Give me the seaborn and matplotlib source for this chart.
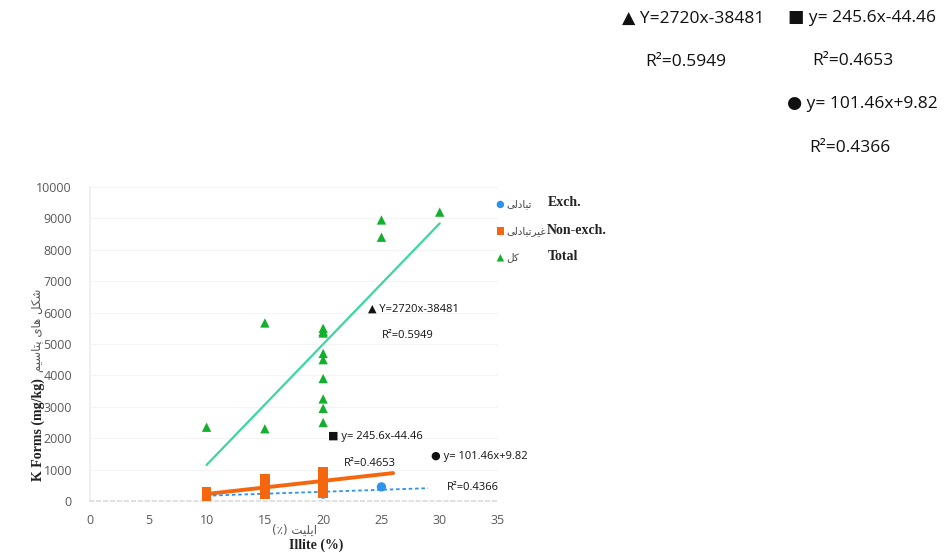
import numpy as np
import pandas as pd
import matplotlib
matplotlib.use('Agg')
import matplotlib.pyplot as plt
import seaborn as sns

# data
exch_x = [10, 15, 15, 20, 20, 20, 20, 20, 25]
exch_y = [190, 240, 270, 220, 250, 280, 300, 260, 450]
nonexch_x = [10, 10, 15, 15, 15, 15, 20, 20, 20, 20, 20, 20, 20, 20, 20, 20]
nonexch_y = [290, 160, 700, 480, 320, 220, 920, 870, 820, 760, 700, 640, 560, 480, 400, 250]
total_x = [10, 15, 15, 20, 20, 20, 20, 20, 20, 20, 20, 20, 25, 25, 30]
total_y = [2350, 5670, 2300, 5500, 5400, 4700, 4500, 3900, 3250, 2950, 2500, 5350, 8950, 8400, 9200]

x_ticks = [0, 5, 10, 15, 20, 25, 30, 35]
y_ticks = list(range(0, 10001, 1000))

eq_total = '▲ Y=2720x-38481'
eq_nonexch = '■ y= 245.6x-44.46'
eq_exch = '● y= 101.46x+9.82'
r2_total = 'R²=0.5949'
r2_nonexch = 'R²=0.4653'
r2_exch = 'R²=0.4366'

fa_exch = 'تبادلی'
fa_nonexch = 'غیرتبادلی'
fa_total = 'کل'
fa_ylabel = 'شکل های پتاسیم'
fa_xlabel = 'ایلیت (٪)'

# matplotlib has no arabic shaping -> pick presentation forms by hand
FORMS = {
    'ا': ('\ufe8d', '\ufe8e', None, None),
    'د': ('\ufea9', '\ufeaa', None, None),
    'ر': ('\ufead', '\ufeae', None, None),
    'ب': ('\ufe8f', '\ufe90', '\ufe91', '\ufe92'),
    'ت': ('\ufe95', '\ufe96', '\ufe97', '\ufe98'),
    'س': ('\ufeb1', '\ufeb2', '\ufeb3', '\ufeb4'),
    'ش': ('\ufeb5', '\ufeb6', '\ufeb7', '\ufeb8'),
    'غ': ('\ufecd', '\ufece', '\ufecf', '\ufed0'),
    'ل': ('\ufedd', '\ufede', '\ufedf', '\ufee0'),
    'م': ('\ufee1', '\ufee2', '\ufee3', '\ufee4'),
    'ه': ('\ufee9', '\ufeea', '\ufeeb', '\ufeec'),
    'ی': ('\ufbfc', '\ufbfd', '\ufbfe', '\ufbff'),
    'ک': ('\ufb8e', '\ufb8f', '\ufb90', '\ufb91'),
    'پ': ('\ufb56', '\ufb57', '\ufb58', '\ufb59'),
}


def shape_fa(s):
    out = []
    for i, c in enumerate(s):
        if c not in FORMS:
            out.append(c)
            continue
        prev = s[i - 1] if i > 0 else ''
        nxt = s[i + 1] if i + 1 < len(s) else ''
        join_prev = prev in FORMS and FORMS[prev][2] is not None
        join_next = nxt in FORMS and FORMS[c][2] is not None
        iso, fin, ini, med = FORMS[c]
        if join_prev and join_next:
            out.append(med)
        elif join_prev:
            out.append(fin)
        elif join_next:
            out.append(ini)
        else:
            out.append(iso)
    vis = ''.join(reversed(out))
    return vis.translate(str.maketrans('()', ')('))


def px(x, y):
    return x / 950, 1 - y / 552


sns.set_theme(style='white')
plt.rcParams['font.family'] = ['Open Sans', 'DejaVu Sans']

fig = plt.figure(figsize=(9.5, 5.52), dpi=100)
ax = fig.add_axes([90 / 950, 1 - 501 / 552, 408 / 950, 314 / 552])

c_exch = '#2E93EE'
c_nonexch = '#F4670F'
c_total = '#12B02C'

sns.scatterplot(x=exch_x, y=exch_y, marker='o', color=c_exch, s=45, edgecolor='none',
                ax=ax, label=shape_fa(fa_exch), zorder=3)
sns.scatterplot(x=nonexch_x, y=nonexch_y, marker='s', color=c_nonexch, s=45, edgecolor='none',
                ax=ax, label=shape_fa(fa_nonexch), zorder=4)
sns.scatterplot(x=total_x, y=total_y, marker='^', color=c_total, s=45, edgecolor='none',
                ax=ax, label=shape_fa(fa_total), zorder=4)

# trend lines
sns.regplot(x=total_x, y=total_y, scatter=False, ci=None, truncate=True, ax=ax,
            line_kws={'color': '#3DD6A2', 'lw': 1.6, 'zorder': 2})
k, b = np.polyfit(nonexch_x, nonexch_y, 1)
xs = np.array([10, 26])
ax.plot(xs, k * xs + b, color=c_nonexch, lw=2.8, zorder=2)
k, b = np.polyfit(exch_x, exch_y, 1)
xs = np.array([10, 29])
ax.plot(xs, k * xs + b, color=c_exch, lw=1.3, ls=(0, (2, 1.5)), zorder=2)

ax.set_xlim(0, 35)
ax.set_ylim(0, 10000)
ax.set_xticks(x_ticks)
ax.set_yticks(y_ticks)
ax.tick_params(axis='x', labelsize=9, colors='#595959', length=0, pad=9)
ax.tick_params(axis='y', labelsize=9, colors='#595959', length=0, pad=13)
ax.yaxis.grid(True, color='#F4F4F4', lw=0.8)
for side in ['top', 'right']:
    ax.spines[side].set_visible(False)
ax.spines['left'].set_color('#EEEEEE')
ax.spines['bottom'].set_color('#DDDDDD')
ax.spines['bottom'].set_linestyle((0, (2, 2)))
ax.set_xlabel('')
ax.set_ylabel('')

leg = ax.legend(loc='upper left', bbox_to_anchor=px(491, 194), bbox_transform=fig.transFigure,
                frameon=False, fontsize=7.5, labelspacing=1.6, handletextpad=0.15,
                handlelength=0.8, borderpad=0, markerscale=0.8)
for t in leg.get_texts():
    t.set_family('DejaVu Sans')
    t.set_color('#444444')

serif_bold = dict(family='Liberation Serif', weight='bold', fontsize=10, color='#222222', va='center')
fig.text(*px(548, 203), 'Exch.', **serif_bold)
fig.text(*px(547, 231), 'Non-exch.', **serif_bold)
fig.text(*px(548, 257), 'Total', **serif_bold)

# axis titles
fig.text(*px(38, 481), 'K Forms (mg/kg)', rotation=90, ha='center', va='bottom',
         family='Liberation Serif', weight='bold', fontsize=10, color='#222222')
fig.text(*px(38, 372), shape_fa(fa_ylabel), rotation=90, ha='center', va='bottom',
         family='DejaVu Sans', fontsize=8.5, color='#555555')
fig.text(*px(294, 530), shape_fa(fa_xlabel), ha='center', va='center',
         family='DejaVu Sans', fontsize=8.5, color='#555555')
fig.text(*px(316, 545), 'Illite (%)', ha='center', va='center',
         family='Liberation Serif', weight='bold', fontsize=10, color='#222222')

# equations inside the plot
small = dict(fontsize=8, color='#111111', va='center')
fig.text(*px(368, 309), eq_total, **small)
fig.text(*px(382, 335), r2_total, **small)
fig.text(*px(328, 436), eq_nonexch, **small)
fig.text(*px(344, 463), r2_nonexch, **small)
fig.text(*px(431, 457), eq_exch, **small)
fig.text(*px(447, 487), r2_exch, **small)

# equations repeated at the top right
big = dict(fontsize=12.5, color='#111111', va='center')
fig.text(*px(622, 19), eq_total, **big)
fig.text(*px(788, 18), eq_nonexch, **big)
fig.text(*px(645, 62), r2_total, **big)
fig.text(*px(812, 61), r2_nonexch, **big)
fig.text(*px(787, 104), eq_exch, **big)
fig.text(*px(809, 148), r2_exch, **big)

fig.savefig('out.png', dpi=100)
